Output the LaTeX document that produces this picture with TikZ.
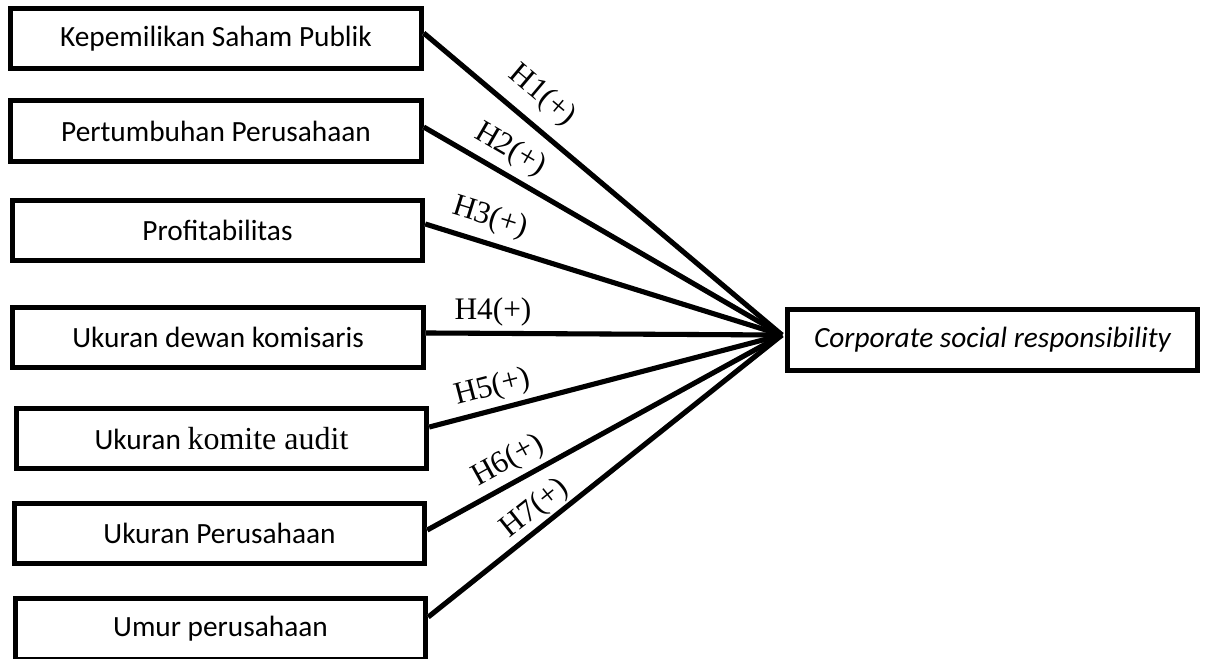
\documentclass[tikz,border=0pt]{standalone}
\usepackage{fontspec}
\setmainfont{Carlito}
\newfontfamily\timesfont{Liberation Serif}
\begin{document}
\begin{tikzpicture}[x=0.75pt,y=-0.75pt,
  box/.style={draw, line width=3.6pt, minimum width=308pt, minimum height=45.5pt,
    inner sep=0pt, font=\fontsize{22}{26}\selectfont},
  link/.style={line width=3.8pt},
  shade/.style={line width=3.8pt, black!13, yshift=-2.6pt},
  hyp/.style={font=\timesfont\fontsize{23.5}{28}\selectfont, inner sep=0pt}]
\useasboundingbox (0,0) rectangle (1208,658);
\node[box] (b1) at (216,38.5) {Kepemilikan Saham Publik};
\node[box] (b2) at (216,131) {Pertumbuhan Perusahaan};
\node[box] (b3) at (217.5,230.5) {Profitabilitas};
\node[box] (b4) at (218,337.5) {Ukuran dewan komisaris};
\node[box] (b5) at (221.5,438.5) {Ukuran {\timesfont\fontsize{24}{28}\selectfont komite audit}};
\node[box] (b6) at (219.5,533.5) {Ukuran Perusahaan};
\node[box] (b7) at (220.5,629) {Umur perusahaan};
\node[box] (csr) at (992.5,340) {\itshape Corporate social responsibility};
\coordinate (P) at (782,335);
\begin{scope}[shade]
\draw ([yshift=4.1pt]b1.east) -- (P);
\draw ([yshift=3pt]b2.east) -- (P);
\draw ([yshift=4.9pt]b3.east) -- (P);
\draw ([yshift=3.4pt]b4.east) -- (P);
\draw ([yshift=8.6pt]b5.east) -- (P);
\draw ([yshift=2.6pt]b6.east) -- (P);
\draw ([yshift=9pt]b7.east) -- (P);
\end{scope}
\draw[link] ([yshift=4.1pt]b1.east) -- (P);
\draw[link] ([yshift=3pt]b2.east) -- (P);
\draw[link] ([yshift=4.9pt]b3.east) -- (P);
\draw[link] ([yshift=3.4pt]b4.east) -- (P);
\draw[link] ([yshift=8.6pt]b5.east) -- (P);
\draw[link] ([yshift=2.6pt]b6.east) -- (P);
\draw[link] ([yshift=9pt]b7.east) -- (P);
\node[hyp, rotate=-40.2] (h1) at (542,96) {H1(+)};
\node[hyp, rotate=-30.2] (h2) at (510,150) {H2(+)};
\node[hyp, rotate=-17.3] (h3) at (490,218) {H3(+)};
\node[hyp] (h4) at (493,312) {H4(+)};
\node[hyp, rotate=14.6] (h5) at (493,388) {H5(+)};
\node[hyp, rotate=28.9] (h6) at (508,461) {H6(+)};
\node[hyp, rotate=38.5] (h7) at (535,509) {H7(+)};
\end{tikzpicture}
\end{document}
